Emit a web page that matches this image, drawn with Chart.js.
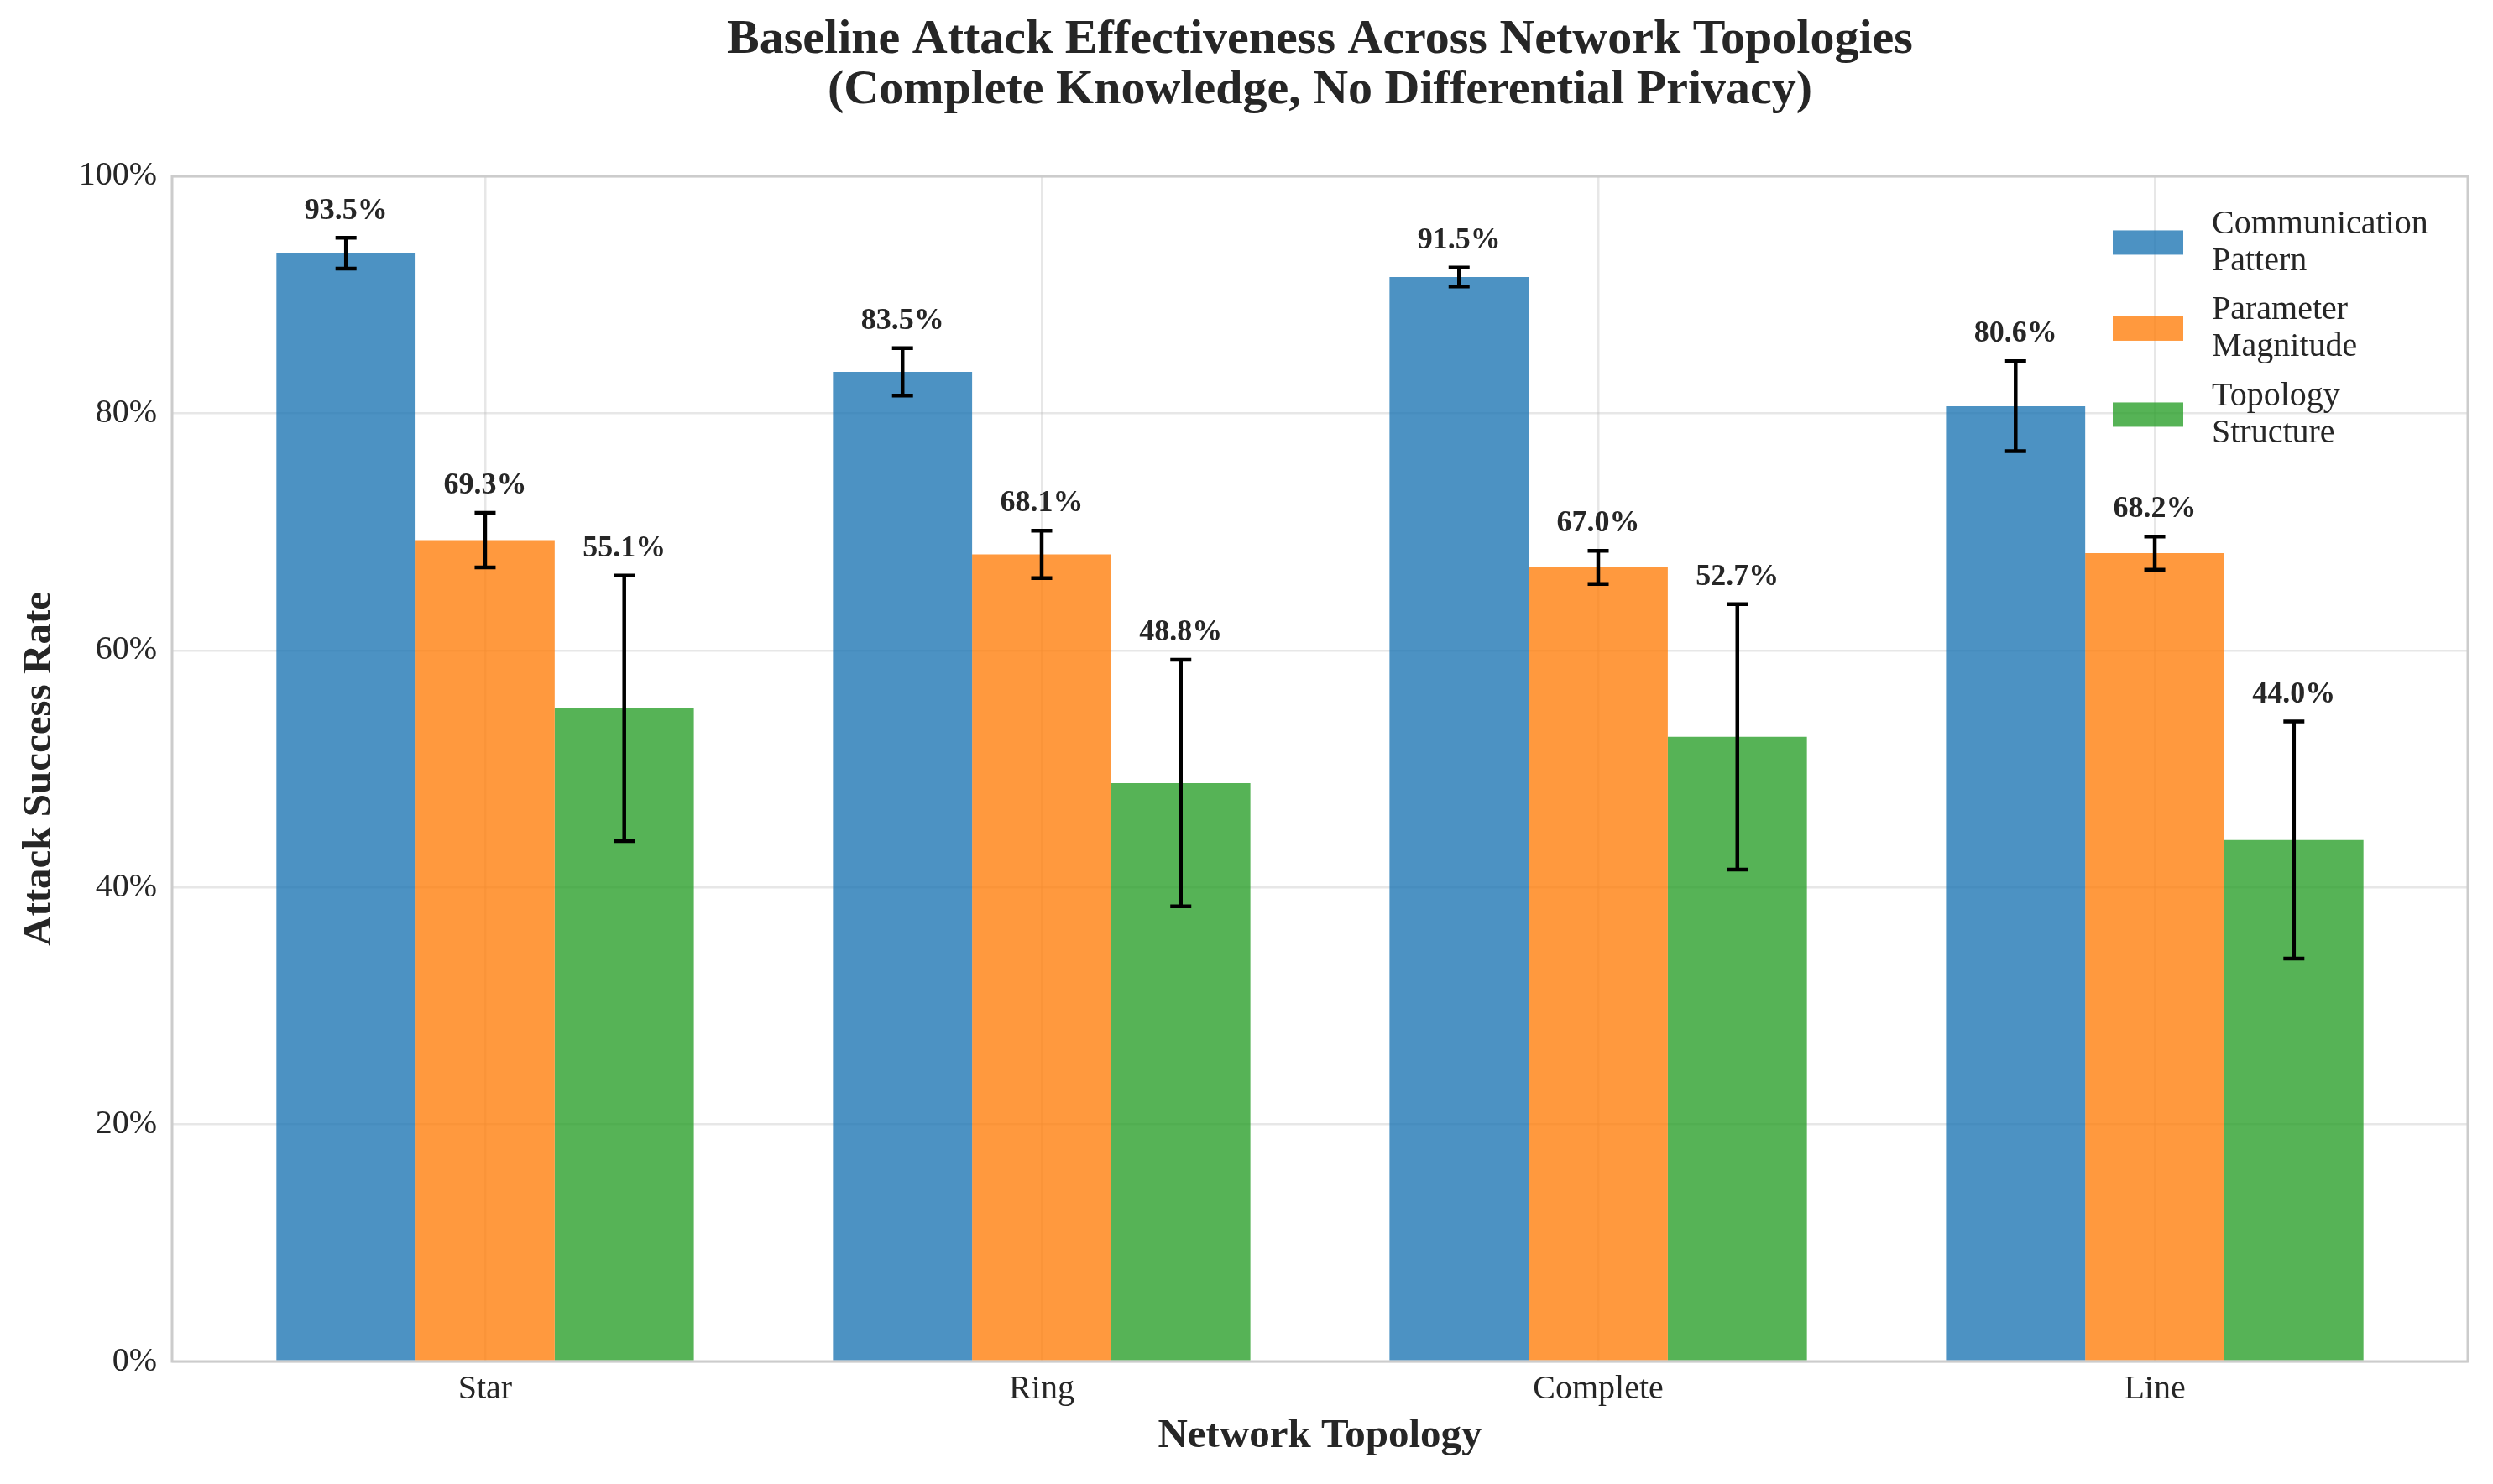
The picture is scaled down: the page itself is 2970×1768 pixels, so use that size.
<!DOCTYPE html>
<html><head><meta charset="utf-8">
<script src="https://cdn.jsdelivr.net/npm/chart.js@4/dist/chart.umd.min.js"></script>
<style>html,body{margin:0;padding:0;background:#fff;} canvas{display:block;}</style>
</head><body>
<canvas id="c" width="2970" height="1768"></canvas>
<script>
// ---- data ----
const topologies = ['Star', 'Ring', 'Complete', 'Line'];
const seriesNames = [['Communication', 'Pattern'], ['Parameter', 'Magnitude'], ['Topology', 'Structure']];
const commPattern = [93.5, 83.5, 91.5, 80.6];
const paramMagnitude = [69.3, 68.1, 67.0, 68.2];
const topoStructure = [55.1, 48.8, 52.7, 44.0];
const commErr = [1.3, 2.0, 0.8, 3.8];
const paramErr = [2.3, 2.0, 1.4, 1.4];
const topoErr = [11.2, 10.4, 11.2, 10.0];
const yTicks = [0, 20, 40, 60, 80, 100];
const titleLines = ['Baseline Attack Effectiveness Across Network Topologies', '(Complete Knowledge, No Differential Privacy)'];

// ---- style ----
const FONT = "'Liberation Serif', 'Times New Roman', serif";
const TXT = '#262626';
const GRID = 'rgba(176,176,176,0.3)';
const colors = ['rgba(31,119,180,0.8)', 'rgba(255,127,14,0.8)', 'rgba(44,160,44,0.8)'];
const allValues = [commPattern, paramMagnitude, topoStructure];
const allErrs = [commErr, paramErr, topoErr];

const datasets = allValues.map((vals, i) => ({
  label: seriesNames[i].join(' '),
  data: vals.map((v, j) => ({ x: j, y: v })),
  errors: allErrs[i],
  backgroundColor: colors[i],
  borderWidth: 0,
  categoryPercentage: 0.75,
  barPercentage: 1.0
}));

const errorBarPlugin = {
  id: 'errorBars',
  afterDatasetsDraw(chart) {
    const { ctx, scales: { y } } = chart;
    ctx.save();
    ctx.strokeStyle = '#000';
    ctx.lineWidth = 4.5;
    ctx.lineCap = 'butt';
    chart.data.datasets.forEach((ds, i) => {
      const meta = chart.getDatasetMeta(i);
      meta.data.forEach((el, j) => {
        const v = ds.data[j].y, e = ds.errors[j];
        const yt = y.getPixelForValue(v + e), yb = y.getPixelForValue(v - e);
        const x = el.x, cap = 12.5;
        ctx.beginPath();
        ctx.moveTo(x, yt); ctx.lineTo(x, yb);
        ctx.moveTo(x - cap, yt); ctx.lineTo(x + cap, yt);
        ctx.moveTo(x - cap, yb); ctx.lineTo(x + cap, yb);
        ctx.stroke();
      });
    });
    // spines
    const a = chart.chartArea;
    ctx.strokeStyle = '#cccccc';
    ctx.lineWidth = 3;
    ctx.strokeRect(a.left, a.top, a.right - a.left, a.bottom - a.top);
    // value labels
    ctx.fillStyle = TXT;
    ctx.font = `bold 36px ${FONT}`;
    ctx.textAlign = 'center';
    ctx.textBaseline = 'bottom';
    chart.data.datasets.forEach((ds, i) => {
      const meta = chart.getDatasetMeta(i);
      meta.data.forEach((el, j) => {
        const v = ds.data[j].y, e = ds.errors[j];
        ctx.fillText(v.toFixed(1) + '%', el.x, y.getPixelForValue(v + e + 1));
      });
    });
    // legend
    ctx.font = `40px ${FONT}`;
    ctx.textAlign = 'left';
    ctx.textBaseline = 'alphabetic';
    chart.data.datasets.forEach((ds, i) => {
      const cy = a.top + 79 + i * 102.5;
      const px = a.right - 423;
      ctx.fillStyle = ds.backgroundColor;
      ctx.fillRect(px, cy - 14.5, 84, 29);
      ctx.fillStyle = TXT;
      seriesNames[i].forEach((line, k) => ctx.fillText(line, px + 118, cy - 11 + k * 44));
    });
    ctx.restore();
  }
};

new Chart(document.getElementById('c'), {
  type: 'bar',
  data: { datasets },
  plugins: [errorBarPlugin],
  options: {
    responsive: false,
    animation: false,
    devicePixelRatio: 1,
    layout: { padding: { left: 0, right: 30, top: 0, bottom: 0 } },
    plugins: {
      legend: { display: false },
      tooltip: { enabled: false },
      title: {
        display: true,
        fullSize: false,
        text: titleLines,
        color: TXT,
        font: { family: FONT, size: 58, weight: 'bold', lineHeight: 1.034 },
        padding: { top: 18.4, bottom: 71.6 }
      }
    },
    scales: {
      x: {
        type: 'linear',
        min: -0.5625,
        max: 3.5625,
        offset: false,
        afterBuildTicks: s => { s.ticks = topologies.map((_, i) => ({ value: i })); },
        afterFit: s => { s.height = 146; },
        ticks: {
          autoSkip: false, maxRotation: 0, padding: 9, color: TXT,
          font: { family: FONT, size: 40 },
          callback: v => topologies[v] ?? ''
        },
        grid: { color: GRID, lineWidth: 2.5, drawTicks: false, offset: false },
        border: { display: false },
        title: {
          display: true, text: 'Network Topology', color: TXT,
          font: { family: FONT, size: 49, weight: 'bold', lineHeight: 1.2 },
          padding: { top: 0, bottom: 27 }
        }
      },
      y: {
        min: 0,
        max: 100,
        afterBuildTicks: s => { s.ticks = yTicks.map(v => ({ value: v })); },
        afterFit: s => { s.width = 205; },
        ticks: {
          padding: 18, color: TXT,
          font: { family: FONT, size: 40 },
          callback: v => v + '%'
        },
        grid: { color: GRID, lineWidth: 2.5, drawTicks: false },
        border: { display: false },
        title: {
          display: true, text: 'Attack Success Rate', color: TXT,
          font: { family: FONT, size: 49, weight: 'bold', lineHeight: 1.2 },
          padding: { top: 18, bottom: 0 }
        }
      }
    }
  }
});
</script>
</body></html>
